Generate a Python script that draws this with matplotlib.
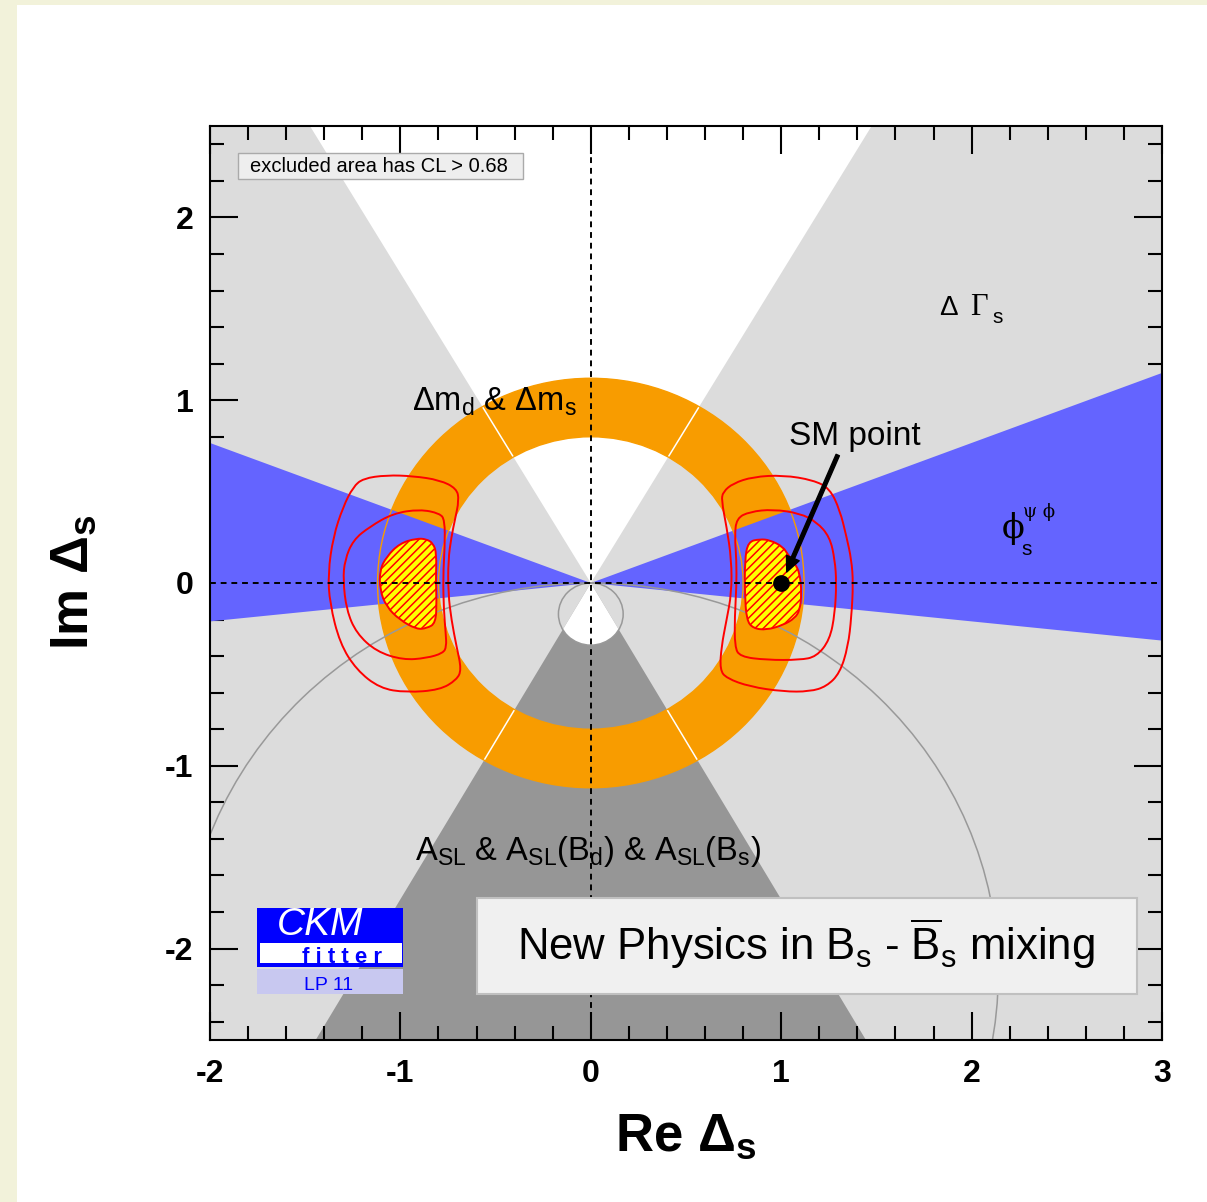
import numpy as np
import matplotlib.pyplot as plt
from matplotlib.patches import Polygon, Wedge, Circle, Rectangle, PathPatch
from matplotlib.path import Path
from matplotlib.ticker import MultipleLocator

plt.rcParams['font.family'] = ['Liberation Sans', 'DejaVu Sans']
plt.rcParams['mathtext.fontset'] = 'custom'
plt.rcParams['mathtext.rm'] = 'Liberation Sans'
plt.rcParams['mathtext.it'] = 'Liberation Sans:italic'
plt.rcParams['mathtext.bf'] = 'Liberation Sans:bold'
plt.rcParams['axes.unicode_minus'] = False
plt.rcParams['hatch.linewidth'] = 1.1

# plot range
xlim = (-2, 3)
ylim = (-2.5, 2.5)
xticks = [-2, -1, 0, 1, 2, 3]
yticks = [-2, -1, 0, 1, 2]

# Delta Gamma_s : allowed double cone, x/y slope of the edges
dgs_slope_up = 0.59
dgs_slope_down = 0.578

# Delta m_d & Delta m_s : ring
dm_r_in = 0.80
dm_r_out = 1.12

# phi_s : wedge, y/x slopes of the edges on the right (mirrored on the left)
phis_slope_hi = 0.383
phis_slope_lo = -0.105

# A_SL : circles tangent to the origin from below
asl_r_small = 0.17
asl_r_big = 2.14

# fit contours, left solution
left_fill_x = [-1.108, -1.073, -1.003, -0.915, -0.863, -0.828, -0.810, -0.814, -0.810, -0.814, -0.863, -0.915, -1.003, -1.073, -1.108]
left_fill_y = [0.071, 0.144, 0.217, 0.244, 0.240, 0.217, 0.162, 0.016, -0.093, -0.220, -0.248, -0.253, -0.202, -0.130, -0.038]
left_mid_x = [-1.161, -1.038, -0.898, -0.793, -0.767, -0.767, -0.776, -0.772, -0.762, -0.758, -0.776, -0.863, -0.986, -1.126, -1.231, -1.283, -1.301, -1.292, -1.248]
left_mid_y = [0.308, 0.381, 0.403, 0.381, 0.344, 0.198, 0.034, -0.148, -0.275, -0.348, -0.384, -0.411, -0.421, -0.375, -0.275, -0.148, 0.016, 0.126, 0.235]
left_out_x = [-1.196, -1.073, -0.933, -0.793, -0.705, -0.692, -0.714, -0.732, -0.749, -0.749, -0.732, -0.705, -0.679, -0.705, -0.793, -0.968, -1.108, -1.231, -1.318, -1.371, -1.380, -1.353, -1.301, -1.248]
left_out_y = [0.572, 0.590, 0.585, 0.563, 0.517, 0.454, 0.344, 0.253, 0.126, -0.056, -0.202, -0.348, -0.475, -0.530, -0.585, -0.599, -0.576, -0.475, -0.330, -0.111, 0.053, 0.253, 0.417, 0.526]

# fit contours, right solution
right_fill_x = [0.826, 0.888, 0.940, 1.010, 1.036, 1.071, 1.098, 1.107, 1.098, 1.071, 1.010, 0.923, 0.852, 0.818, 0.809, 0.809]
right_fill_y = [0.226, 0.240, 0.235, 0.198, 0.153, 0.108, 0.053, -0.056, -0.148, -0.193, -0.230, -0.257, -0.248, -0.202, -0.056, 0.126]
right_mid_x = [0.765, 0.835, 0.957, 1.098, 1.185, 1.255, 1.282, 1.290, 1.282, 1.255, 1.185, 1.098, 0.923, 0.783, 0.756, 0.756, 0.765, 0.765, 0.756]
right_mid_y = [0.354, 0.390, 0.403, 0.381, 0.335, 0.253, 0.126, 0.0, -0.166, -0.311, -0.403, -0.421, -0.421, -0.403, -0.348, -0.184, -0.020, 0.126, 0.253]
right_out_x = [0.695, 0.747, 0.852, 1.010, 1.168, 1.255, 1.308, 1.343, 1.369, 1.378, 1.369, 1.351, 1.308, 1.238, 1.150, 1.010, 0.835, 0.713, 0.678, 0.686, 0.713, 0.739, 0.739, 0.713, 0.686]
right_out_y = [0.499, 0.545, 0.581, 0.590, 0.563, 0.517, 0.399, 0.253, 0.126, 0.0, -0.184, -0.348, -0.493, -0.566, -0.594, -0.594, -0.567, -0.521, -0.475, -0.348, -0.202, -0.056, 0.126, 0.308, 0.454]

sm_point = (1.0, 0.0)

LGRAY = '#dcdcdc'
DGRAY = '#969696'
ORANGE = '#f89c00'
BLUE = '#6464ff'


# closed curve through the contour points, drawn as quadratic bezier pieces
def contour_path(xs, ys):
    pts = np.column_stack([xs, ys])
    mids = (pts + np.roll(pts, -1, axis=0)) / 2
    verts = [mids[-1]]
    codes = [Path.MOVETO]
    for p, m in zip(pts, mids):
        verts += [p, m]
        codes += [Path.CURVE3, Path.CURVE3]
    return Path(verts, codes)


fig = plt.figure(figsize=(12.07, 12.02), dpi=100, facecolor='#f2f2da')
fig.add_artist(Rectangle((17/1207, 0), 1, 1 - 5/1202, transform=fig.transFigure,
                         fc='white', ec='none', zorder=-10))
ax = fig.add_axes([210/1207, 1 - 1040/1202, 952/1207, 914/1202])
ax.set_facecolor(LGRAY)
ax.set_xlim(*xlim)
ax.set_ylim(*ylim)

# Delta Gamma_s : white cone above, dark gray cone below (A_SL)
big = 3.0
up = Polygon([(0, 0), (-dgs_slope_up*big, big), (dgs_slope_up*big, big)], fc='white', ec='none', zorder=1)
dn = Polygon([(0, 0), (-dgs_slope_down*big, -big), (dgs_slope_down*big, -big)], fc=DGRAY, ec='none', zorder=1)
ax.add_patch(up)
ax.add_patch(dn)
hole = Circle((0, -asl_r_small), asl_r_small, fc='white', ec='none', zorder=1.1)
ax.add_patch(hole)
hole.set_clip_path(dn)

# Delta m ring
ax.add_patch(Wedge((0, 0), dm_r_out, 0, 360, width=dm_r_out - dm_r_in, fc=ORANGE, ec='none', zorder=2))
for sx, sy in [(-dgs_slope_up, 1), (dgs_slope_up, 1), (-dgs_slope_down, -1), (dgs_slope_down, -1)]:
    n = np.hypot(sx, sy)
    ax.plot([sx/n*dm_r_in, sx/n*dm_r_out], [sy/n*dm_r_in, sy/n*dm_r_out], color='white', lw=1.1, zorder=2.1)

# phi_s wedges
ax.add_patch(Polygon([(0, 0), (big, phis_slope_hi*big), (big, phis_slope_lo*big)], fc=BLUE, ec='none', zorder=3))
ax.add_patch(Polygon([(0, 0), (-big, phis_slope_hi*big), (-big, phis_slope_lo*big)], fc=BLUE, ec='none', zorder=3))
for r in (dm_r_in, dm_r_out):
    ax.add_patch(Circle((0, 0), r, fill=False, ec=ORANGE, lw=1, zorder=3.1))

# A_SL circles
for r in (asl_r_small, asl_r_big):
    ax.add_patch(Circle((0, -r), r, fill=False, ec='#999999', lw=1.1, zorder=4))

# fit result
for fx, fy in [(left_fill_x, left_fill_y), (right_fill_x, right_fill_y)]:
    ax.add_patch(PathPatch(contour_path(fx, fy), facecolor='yellow', edgecolor='red',
                           hatch='////', lw=1.4, zorder=5))
for cx, cy in [(left_mid_x, left_mid_y), (left_out_x, left_out_y),
               (right_mid_x, right_mid_y), (right_out_x, right_out_y)]:
    ax.add_patch(PathPatch(contour_path(cx, cy), fill=False, edgecolor='red', lw=1.4, zorder=5))

ax.axhline(0, color='black', lw=1.4, ls=(0, (3, 2.5)), zorder=6)
ax.axvline(0, color='black', lw=1.4, ls=(0, (3, 2.5)), zorder=6)

ax.plot(*sm_point, 'o', color='black', ms=11, zorder=7)
ax.annotate('', xy=(1.029, 0.060), xytext=(1.297, 0.70),
            arrowprops=dict(facecolor='black', edgecolor='black', width=2.6,
                            headwidth=10, headlength=11, shrink=0), zorder=7)

# labels inside the plot
ax.add_patch(Rectangle((-1.854, 2.208), 1.497, 0.142, fc='#eeeeee', ec='#aaaaaa', lw=1, zorder=8))
ax.text(-1.79, 2.279, 'excluded area has CL > 0.68', va='center', fontsize=14.5, zorder=9)
ax.text(-0.509, 0.945, 'Δm$_{\\rm d}$ & Δm$_{\\rm s}$', ha='center', va='baseline', fontsize=23.5, zorder=9)
ax.text(1.387, 0.754, 'SM point', ha='center', va='baseline', fontsize=24, zorder=9)
ax.text(-0.016, -1.514, 'A$_{\\rm SL}$ & A$_{\\rm SL}$(B$_{\\rm d}$) & A$_{\\rm SL}$(B$_{\\rm s}$)',
        ha='center', va='baseline', fontsize=23.5, zorder=9)
ax.text(1.828, 1.464, 'Δ', fontsize=20, va='baseline', zorder=9)
ax.text(1.99, 1.464, 'Γ', fontsize=22, va='baseline', family=['Liberation Serif', 'DejaVu Serif'], zorder=9)
ax.text(2.111, 1.421, 's', fontsize=15, va='baseline', zorder=9)
ax.text(2.159, 0.246, 'ϕ', fontsize=24, va='baseline', family=['DejaVu Serif'], zorder=9)
ax.text(2.269, 0.362, 'ψ ϕ', fontsize=13, va='baseline', family=['DejaVu Serif'], zorder=9)
ax.text(2.264, 0.155, 's', fontsize=15, va='baseline', zorder=9)

ax.add_patch(Rectangle((-0.599, -2.251), 3.467, 0.530, fc='#f0f0f0', ec='#c0c0c0', lw=1.5, zorder=8))
ax.text(1.129, -2.060, r'New Physics in B$_{\rm s}$ - $\overline{\rm B}_{\rm s}$ mixing',
        ha='center', va='baseline', fontsize=31.5, zorder=9)

# CKMfitter logo
ax.add_patch(Rectangle((-1.754, -2.098), 0.767, 0.322, fc='#0000ff', ec='none', zorder=8))
ax.add_patch(Rectangle((-1.738, -2.077), 0.745, 0.110, fc='white', ec='none', zorder=8.5))
ax.add_patch(Rectangle((-1.754, -2.251), 0.767, 0.142, fc='#c8c8f0', ec='none', zorder=8))
ax.text(-1.649, -1.925, 'CKM', color='white', style='italic', fontsize=28, va='baseline', zorder=9)
ax.text(-1.518, -2.077, 'f i t t e r', color='#0000ff', fontweight='bold', fontsize=16, va='baseline', zorder=9)
ax.text(-1.376, -2.224, 'LP 11', color='#0000ff', fontsize=14, ha='center', va='baseline', zorder=9)

# axes
ax.set_xticks(xticks, [str(v) for v in xticks], fontweight='bold', fontsize=23)
ax.set_yticks(yticks, [str(v) for v in yticks], fontweight='bold', fontsize=23)
ax.xaxis.set_minor_locator(MultipleLocator(0.2))
ax.yaxis.set_minor_locator(MultipleLocator(0.2))
ax.tick_params(which='both', direction='in', top=True, right=True, width=1.5, zorder=10)
ax.tick_params(which='major', length=20)
ax.tick_params(which='minor', length=10)
ax.tick_params(axis='x', pad=14)
ax.tick_params(axis='y', pad=12)
for s in ax.spines.values():
    s.set_linewidth(1.5)
    s.set_zorder(10)

fig.text(686/1207, 1 - 1137/1202, 'Re Δ$_{\\bf s}$', fontsize=38, fontweight='bold', ha='center', va='center')
fig.text(74/1207, 1 - 582/1202, 'Im Δ$_{\\bf s}$', fontsize=38, fontweight='bold', ha='center', va='center', rotation=90)

fig.savefig('out.png', dpi=100, facecolor=fig.get_facecolor())
